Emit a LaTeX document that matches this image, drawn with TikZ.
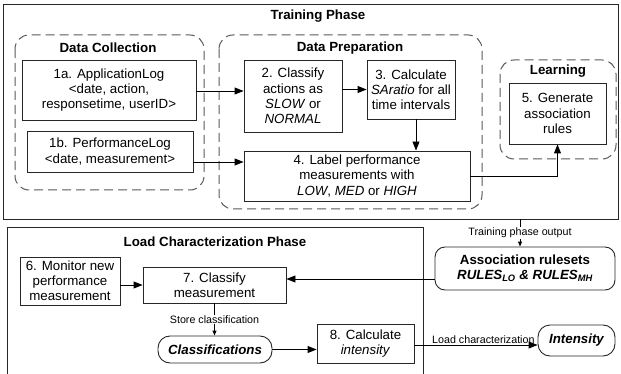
\documentclass[tikz,border=0pt]{standalone}
\usepackage{fontspec}
\setmainfont{Liberation Sans}
\usetikzlibrary{arrows.meta,calc}

\begin{document}
\begin{tikzpicture}[x=1pt,y=-1pt,
  every node/.style={font=\fontsize{13.3}{15.2}\selectfont},
  proc/.style={draw=black!85, line width=0.9pt, align=center, inner sep=0pt},
  store/.style={draw=black!85, line width=0.9pt, rounded corners=12pt, align=center, inner sep=0pt,
    font=\fontsize{13.3}{15.2}\selectfont\bfseries\itshape},
  group/.style={draw=black!65, dash pattern=on 9pt off 5pt, line width=1pt, rounded corners=14pt},
  phase/.style={draw=black!85, line width=0.9pt},
  title/.style={font=\fontsize{13.3}{15.2}\selectfont\bfseries, inner sep=0pt},
  small/.style={font=\fontsize{10.7}{12}\selectfont, fill=white, inner sep=1pt},
  arr/.style={line width=0.9pt, -{Triangle[length=9pt,width=7pt]}},
  sarr/.style={line width=0.9pt, -{Triangle[length=5pt,width=4pt]}},
]
\useasboundingbox (0,0) rectangle (621,374);

% ---------- training phase ----------
\draw[phase] (3,4) rectangle (618,219);
\node[title] (ttrain) at (318,16) {Training Phase};

\draw[group] (15,35) rectangle (204,190);
\node[title] (tcoll) at (108,48) {Data Collection};
\draw[group] (219,35) rectangle (482,209);
\node[title] (tprep) at (350,48) {Data Preparation};
\draw[group] (500,60) rectangle (616,159);
\node[title] (tlearn) at (558,71) {Learning};

\node[proc, minimum width=174pt, minimum height=60pt] (a1) at (109,90)
  {1a. ApplicationLog\\<date, action,\\responsetime, userID>};
\node[proc, minimum width=166pt, minimum height=41pt] (b1) at (110,151.5)
  {1b. PerformanceLog\\<date, measurement>};
\node[proc, minimum width=98pt, minimum height=72pt] (c2) at (293,96)
  {2. Classify\\actions as\\\textit{SLOW} or\\\textit{NORMAL}};
\node[proc, minimum width=88pt, minimum height=59pt] (c3) at (411,89.5)
  {3. Calculate\\\textit{SAratio} for all\\time intervals};
\node[proc, minimum width=226pt, minimum height=50pt] (c4) at (357,176)
  {4. Label performance\\measurements with\\\textit{LOW}, \textit{MED} or \textit{HIGH}};
\node[proc, minimum width=97pt, minimum height=61pt] (c5) at (557.5,113.5)
  {5. Generate\\association\\rules};

\draw[arr] ([yshift=-1pt]a1.east) -- ([yshift=-1pt]a1.east -| c2.west);
\draw[arr] (c2.east |- c3.west) -- (c3.west);
\draw[arr] ([xshift=5pt]c3.south) -- ([xshift=5pt]c3.south |- c4.north);
\draw[arr] ([yshift=-10.5pt]b1.east) -- ([yshift=-10.5pt]b1.east -| c4.west);
\draw[arr] (c4.east) -| (c5.south);

% ---------- load characterization phase ----------
\draw[phase] (7,376) -- (7,227) -- (423,227) -- (423,376);
\node[title] (tload) at (215,242) {Load Characterization Phase};

\node[store, rounded corners=10pt, minimum width=180pt, minimum height=43pt] (rules) at (525,268.5)
  {{\upshape Association rulesets}\\[-0.5pt]RULES\textsubscript{LO} \& RULES\textsubscript{MH}};
\node[proc, minimum width=100pt, minimum height=48pt] (c6) at (70,281)
  {6. Monitor new\\performance\\measurement};
\node[proc, minimum width=143pt, minimum height=36pt] (c7) at (214.5,285)
  {7. Classify\\measurement};
\node[store, minimum width=114pt, minimum height=27pt] (cls) at (215,349.5) {Classifications};
\node[proc, minimum width=97pt, minimum height=39pt] (c8) at (365.5,343.5)
  {8. Calculate\\\textit{intensity}};
\node[store, minimum width=77pt, minimum height=31pt] (inten) at (576.5,340.5) {Intensity};

\coordinate (tout) at (520,219);
\draw[sarr] (tout) -- (tout |- rules.north)
  node[small, midway] (ltout) {Training phase output};
\draw[arr] ([yshift=-10.5pt]rules.west) -- ([yshift=-10.5pt]rules.west -| c7.east);
\draw[arr] (c7.west -| c6.east) -- (c7.west);
\draw[sarr] (c7.south) -- (c7.south |- cls.north)
  node[small, pos=0.5] (lstore) {Store classification};
\draw[arr] (cls.east) -- (cls.east -| c8.west);
\draw[arr] ([yshift=-1.5pt]c8.east) -- ([yshift=-1.5pt]c8.east -| inten.west)
  node[small, fill=none, pos=0.56, above=0pt] (lload) {Load characterization};
\end{tikzpicture}
\end{document}
